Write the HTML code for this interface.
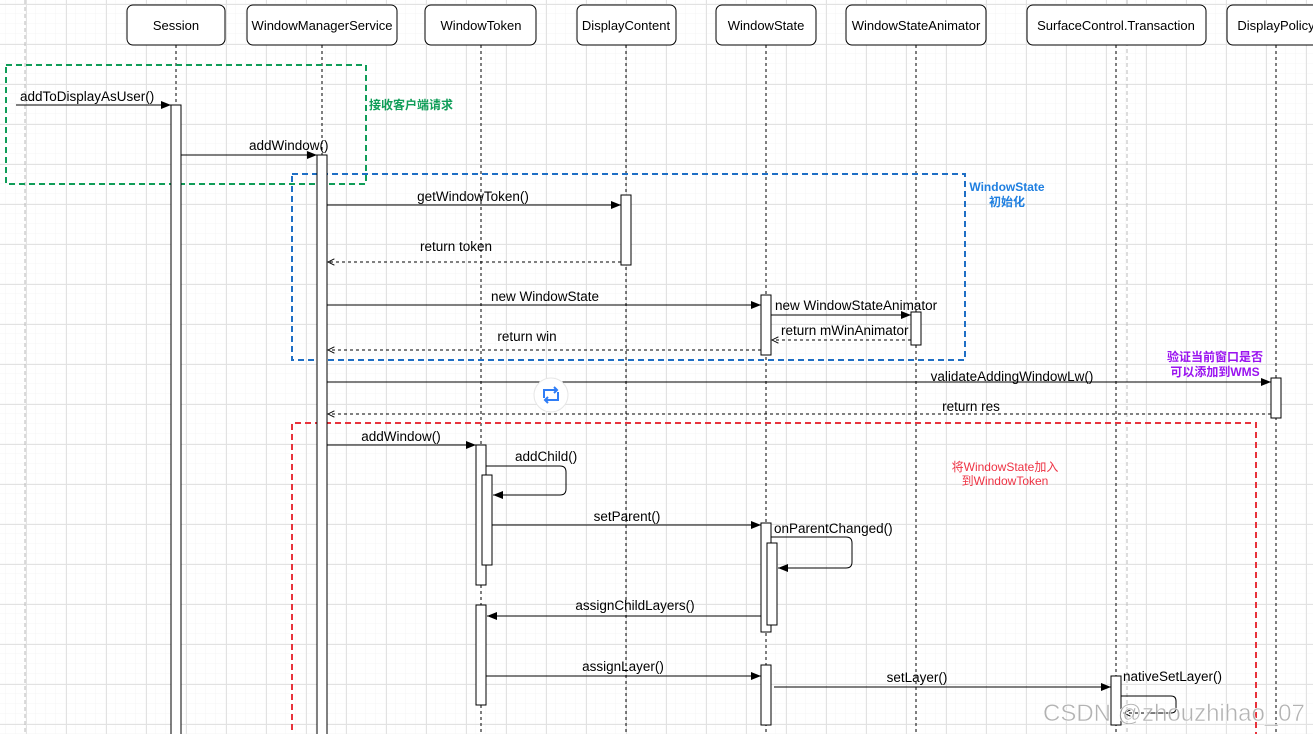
<!DOCTYPE html>
<html><head><meta charset="utf-8"><style>
html,body{margin:0;padding:0;background:#fff;}
svg{display:block;font-family:"Liberation Sans","Noto Sans CJK SC",sans-serif;}
</style></head><body>
<svg width="1313" height="734" viewBox="0 0 1313 734" xmlns="http://www.w3.org/2000/svg">
<defs>
<pattern id="minor" width="10" height="10" patternUnits="userSpaceOnUse" x="6" y="4">
<path d="M10 0V10M0 10H10" stroke="#f4f4f4" stroke-width="1" fill="none"/></pattern>
<pattern id="major" width="40" height="40" patternUnits="userSpaceOnUse" x="26" y="4">
<path d="M0.5 0V40M0 0.5H40" stroke="#e2e2e2" stroke-width="1" fill="none"/></pattern>
<marker id="a" viewBox="0 0 10 10" refX="10" refY="5" markerWidth="10" markerHeight="10" markerUnits="userSpaceOnUse" orient="auto"><path d="M0 1L10 5L0 9z" fill="#000"/></marker>
<marker id="o" viewBox="0 0 10 10" refX="9" refY="5" markerWidth="8" markerHeight="8" markerUnits="userSpaceOnUse" orient="auto"><path d="M1 1L9 5L1 9" fill="none" stroke="#000" stroke-width="1.2"/></marker>
</defs>
<rect width="1313" height="734" fill="url(#minor)"/>
<rect width="1313" height="734" fill="url(#major)"/>
<g stroke="#bbb" stroke-dasharray="4 3"><line x1="25" y1="0" x2="25" y2="734"/><line x1="1127" y1="0" x2="1127" y2="734"/></g>

<g stroke="#000" stroke-dasharray="3 3" stroke-width="1">
<line x1="176" y1="45" x2="176" y2="734"/><line x1="322" y1="45" x2="322" y2="734"/>
<line x1="481" y1="45" x2="481" y2="734"/><line x1="626" y1="45" x2="626" y2="734"/>
<line x1="766" y1="45" x2="766" y2="734"/><line x1="916" y1="45" x2="916" y2="734"/>
<line x1="1116" y1="45" x2="1116" y2="734"/><line x1="1276" y1="45" x2="1276" y2="734"/>
</g>
<g fill="#fff" stroke="#000">
<rect x="127" y="5" width="98" height="40" rx="6"/><rect x="247" y="5" width="150" height="40" rx="6"/>
<rect x="425" y="5" width="111" height="40" rx="6"/><rect x="577" y="5" width="99" height="40" rx="6"/>
<rect x="716" y="5" width="100" height="40" rx="6"/><rect x="846" y="5" width="140" height="40" rx="6"/>
<rect x="1027" y="5" width="179" height="40" rx="6"/><rect x="1227" y="5" width="100" height="40" rx="6"/>
</g>
<g font-size="13" text-anchor="middle" fill="#000">
<text x="176" y="30">Session</text><text x="322" y="30">WindowManagerService</text>
<text x="481" y="30">WindowToken</text><text x="626" y="30">DisplayContent</text>
<text x="766" y="30">WindowState</text><text x="916" y="30">WindowStateAnimator</text>
<text x="1116" y="30">SurfaceControl.Transaction</text><text x="1276" y="30">DisplayPolicy</text>
</g>

<g fill="none" stroke-width="2" stroke-dasharray="6 4">
<rect x="6" y="65" width="360" height="119" stroke="#0f9d58"/>
<rect x="292" y="174" width="673" height="186" stroke="#1f6fc5"/>
<path d="M292 740V423H1256V740" stroke="#e8333c"/>
</g>

<g fill="#fff" stroke="#000">
<rect x="171" y="105" width="10" height="640"/>
<rect x="317" y="155" width="10" height="590"/>
<rect x="621" y="195" width="10" height="70"/>
<rect x="761" y="295" width="10" height="60"/>
<rect x="911" y="312" width="10" height="33"/>
<rect x="1271" y="378" width="10" height="40"/>
<rect x="476" y="445" width="10" height="140"/>
<rect x="482" y="475" width="10" height="90"/>
<rect x="761" y="523" width="10" height="109"/>
<rect x="767" y="543" width="10" height="82"/>
<rect x="476" y="605" width="10" height="100"/>
<rect x="761" y="665" width="10" height="60"/>
<rect x="1111" y="676" width="10" height="49"/>
</g>

<g stroke="#000" fill="none" stroke-width="1">
<line x1="16" y1="105" x2="171" y2="105" marker-end="url(#a)"/>
<line x1="181" y1="155" x2="317" y2="155" marker-end="url(#a)"/>
<line x1="327" y1="205" x2="621" y2="205" marker-end="url(#a)"/>
<line x1="621" y1="262" x2="328" y2="262" stroke-dasharray="3 3" marker-end="url(#o)"/>
<line x1="327" y1="305" x2="761" y2="305" marker-end="url(#a)"/>
<line x1="771" y1="315" x2="911" y2="315" marker-end="url(#a)"/>
<line x1="911" y1="340" x2="772" y2="340" stroke-dasharray="3 3" marker-end="url(#o)"/>
<line x1="761" y1="350" x2="328" y2="350" stroke-dasharray="3 3" marker-end="url(#o)"/>
<line x1="327" y1="382" x2="1271" y2="382" marker-end="url(#a)"/>
<line x1="1271" y1="414" x2="328" y2="414" stroke-dasharray="3 3" marker-end="url(#o)"/>
<line x1="327" y1="445" x2="476" y2="445" marker-end="url(#a)"/>
<path d="M486 466H560Q566 466 566 472V489Q566 495 560 495H493" marker-end="url(#a)"/>
<line x1="492" y1="525" x2="761" y2="525" marker-end="url(#a)"/>
<path d="M771 537H846Q852 537 852 543V562Q852 568 846 568H778" marker-end="url(#a)"/>
<line x1="761" y1="616" x2="487" y2="616" marker-end="url(#a)"/>
<line x1="486" y1="676" x2="761" y2="676" marker-end="url(#a)"/>
<line x1="774" y1="687" x2="1111" y2="687" marker-end="url(#a)"/>
<path d="M1121 696H1171Q1176 696 1176 701V708Q1176 713 1171 713H1150"/>
<line x1="1150" y1="713" x2="1124" y2="713" stroke-dasharray="3 3" marker-end="url(#o)"/>
</g>
<g font-size="13.5" fill="#000">
<text x="20" y="101">addToDisplayAsUser()</text>
<text x="249" y="150">addWindow()</text>
<text x="473" y="201" text-anchor="middle">getWindowToken()</text>
<text x="456" y="251" text-anchor="middle">return token</text>
<text x="545" y="301" text-anchor="middle">new WindowState</text>
<text x="775" y="310">new WindowStateAnimator</text>
<text x="781" y="335">return mWinAnimator</text>
<text x="527" y="341" text-anchor="middle">return win</text>
<text x="1012" y="381" text-anchor="middle">validateAddingWindowLw()</text>
<text x="971" y="411" text-anchor="middle">return res</text>
<text x="401" y="441" text-anchor="middle">addWindow()</text>
<text x="515" y="461">addChild()</text>
<text x="627" y="521" text-anchor="middle">setParent()</text>
<text x="774" y="533">onParentChanged()</text>
<text x="635" y="610" text-anchor="middle">assignChildLayers()</text>
<text x="623" y="671" text-anchor="middle">assignLayer()</text>
<text x="917" y="682" text-anchor="middle">setLayer()</text>
<text x="1123" y="681">nativeSetLayer()</text>
</g>
<g font-size="12" font-weight="bold" text-anchor="middle">
<text x="411" y="109" fill="#0f9d58">接收客户端请求</text>
<text x="1007" y="191" fill="#1f7fe0">WindowState</text>
<text x="1007" y="206" fill="#1f7fe0">初始化</text>
<text x="1215" y="361" fill="#9a12f0">验证当前窗口是否</text>
<text x="1215" y="376" fill="#9a12f0">可以添加到WMS</text>
<text x="1005" y="471" fill="#ee3344" font-weight="normal">将WindowState加入</text>
<text x="1005" y="485" fill="#ee3344" font-weight="normal">到WindowToken</text>
</g>

<circle cx="551" cy="395" r="17" fill="#fff" stroke="#e6e6e6"/>
<g stroke="#2f7df6" stroke-width="2" fill="none">
<path d="M544 398V390H557"/><path d="M554 387L557 390L554 393"/>
<path d="M558 392V400H545"/><path d="M548 397L545 400L548 403"/>
</g>

<text x="1043" y="721" font-size="24" fill="#999" fill-opacity="0.75" stroke="#fff" stroke-width="0.5">CSDN @zhouzhihao_07</text>
</svg>
</body></html>
